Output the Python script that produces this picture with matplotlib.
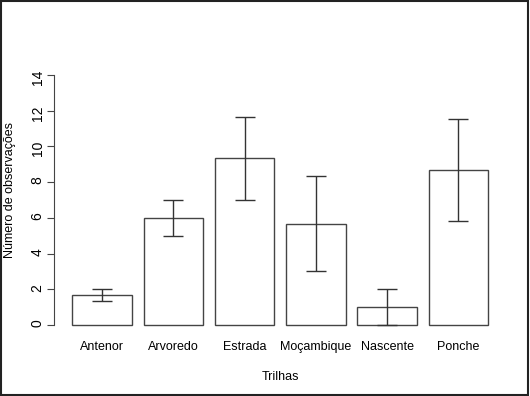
import matplotlib.pyplot as plt
from matplotlib.patches import Rectangle
import numpy as np

plt.rcParams['font.family'] = ['Liberation Sans', 'DejaVu Sans']

# data
trilhas = ["Antenor", "Arvoredo", "Estrada", "Moçambique", "Nascente", "Ponche"]
medias = [1.67, 6.0, 9.33, 5.67, 1.0, 8.67]
erros = [0.33, 1.0, 2.33, 2.67, 1.0, 2.85]
yticks = [0, 2, 4, 6, 8, 10, 12, 14]

fig = plt.figure(figsize=(5.3, 3.96), dpi=100)
ax = fig.add_axes([0.1051, 0.154, 0.8472, 0.682])

# R barplot style positions: width 1, space 0.2
x = 0.7 + 1.2 * np.arange(len(trilhas))
ax.bar(x, medias, width=1.0, color='white', edgecolor='#444444', linewidth=1.0)
ax.errorbar(x, medias, yerr=erros, fmt='none', ecolor='#333333',
            elinewidth=1.0, capsize=7, capthick=1.0)

ax.set_xlim(-0.08, 7.48)
ax.set_ylim(-0.56, 14.56)
ax.set_xticks(x)
ax.set_xticklabels(trilhas, fontsize=9)
ax.tick_params(axis='x', length=0, pad=4)
ax.set_yticks(yticks)
ax.set_yticklabels([str(v) for v in yticks], fontsize=9, va='center')
ax.tick_params(axis='y', length=5, width=0.8, color='#444444', pad=2, labelrotation=90)

for s in ['top', 'right', 'bottom']:
    ax.spines[s].set_visible(False)
ax.spines['left'].set_bounds(0, 14)
ax.spines['left'].set_color('#444444')
ax.spines['left'].set_position(('outward', 1))

ax.set_xlabel("Trilhas", fontsize=9, labelpad=13)
fig.text(10 / 530, 1 - 190 / 396, "Número de observações", fontsize=9,
         rotation=90, ha='center', va='center')

# outer frame around the image
frame = Rectangle((0.002, 0.003), 0.995, 0.994, transform=fig.transFigure,
                  fill=False, edgecolor='#222222', linewidth=1.5, clip_on=False)
fig.add_artist(frame)

fig.savefig("out.png", dpi=100)
